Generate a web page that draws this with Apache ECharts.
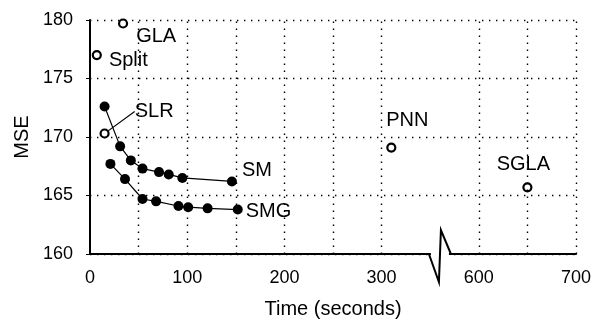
<!DOCTYPE html>
<html>
<head>
<meta charset="utf-8">
<script src="https://cdn.jsdelivr.net/npm/echarts@6/dist/echarts.min.js"></script>
<style>
  html, body { margin: 0; background: #fff; }
  #chart { width: 599px; height: 320px; }
</style>
</head>
<body>
<div id="chart"></div>
<script>
// SM / SMG curves (time in seconds, MSE)
const smTime = [15, 31, 42, 54, 71, 81, 95, 146];
const smMSE = [172.6, 169.2, 168.0, 167.3, 167.0, 166.8, 166.5, 166.2];
const smgTime = [21, 36, 54, 68, 91, 101, 121, 152];
const smgMSE = [167.7, 166.4, 164.7, 164.5, 164.1, 164.0, 163.9, 163.8];

// single methods, drawn as open circles
const openNames = ['GLA', 'Split', 'SLR', 'PNN', 'SGLA'];
const openTime = [34, 7, 15, 310, 650];
const openMSE = [179.7, 177.0, 170.3, 169.1, 165.7];

const gridTimes = [50, 100, 150, 200, 250, 300, 600, 650, 700];
const timeMax = 700;

// part of the time axis that is cut out
const breakFrom = 360;
const breakTo = 560;
const shift = breakTo - breakFrom;

const toAxis = (t) => (t >= breakTo ? t - shift : t);
const fromAxis = (v) => (v > breakFrom ? v + shift : v);

const font = 'Liberation Sans, Arial, sans-serif';
const textStyle = { fontFamily: font, fontSize: 20, color: '#000' };
const dotted = { color: '#000', width: 1.4, type: [1.4, 5.6], opacity: 1 };

// where each open-circle label sits
const openLabels = {
  GLA: { position: 'right', distance: 8 },
  Split: { position: 'right', distance: 7 },
  SLR: { position: 'right', distance: 5 },
  PNN: { position: 'top', distance: 10 },
  SGLA: { position: 'top', distance: 8 },
};
const openShift = {
  GLA: { dx: 0, dy: 13 },
  Split: { dx: 0, dy: 5 },
  SLR: { dx: 20, dy: -22 },
  PNN: { dx: 16, dy: -2 },
  SGLA: { dx: -4, dy: 0 },
};

const chart = echarts.init(document.getElementById('chart'));

chart.setOption({
  animation: false,
  grid: { left: 90, right: 23, top: 20, bottom: 66, outerBoundsMode: 'none', containLabel: false },
  xAxis: {
    type: 'value',
    min: 0,
    max: toAxis(timeMax),
    interval: 100,
    name: 'Time (seconds)',
    nameLocation: 'middle',
    nameGap: 45,
    nameTextStyle: textStyle,
    axisLine: { lineStyle: { color: '#000', width: 2 } },
    axisTick: { show: false },
    axisLabel: { ...textStyle, fontSize: 18, margin: 15, formatter: (v) => String(fromAxis(v)) },
    splitLine: { show: false },
  },
  yAxis: {
    type: 'value',
    min: 160,
    max: 180,
    interval: 5,
    name: 'MSE',
    nameLocation: 'middle',
    nameGap: 58,
    nameTextStyle: textStyle,
    axisLine: { show: true, lineStyle: { color: '#000', width: 2 } },
    axisTick: { show: true, length: 4, lineStyle: { color: '#000', width: 1 } },
    axisLabel: { ...textStyle, fontSize: 18, margin: 17 },
    splitLine: { show: true, lineStyle: dotted },
  },
  series: [
    {
      name: 'SM',
      type: 'line',
      data: smTime.map((t, i) => [toAxis(t), smMSE[i]]),
      symbol: 'circle',
      symbolSize: 10,
      itemStyle: { color: '#000' },
      lineStyle: { color: '#000', width: 1.2 },
      endLabel: { show: true, formatter: 'SM', ...textStyle, offset: [2, -11] },
      z: 3,
    },
    {
      name: 'SMG',
      type: 'line',
      data: smgTime.map((t, i) => [toAxis(t), smgMSE[i]]),
      symbol: 'circle',
      symbolSize: 10,
      itemStyle: { color: '#000' },
      lineStyle: { color: '#000', width: 1.2 },
      endLabel: { show: true, formatter: 'SMG', ...textStyle, offset: [0, 2] },
      z: 3,
    },
    {
      name: 'single',
      type: 'scatter',
      symbol: 'circle',
      symbolSize: 8,
      itemStyle: { color: '#fff', borderColor: '#000', borderWidth: 2.2, opacity: 1 },
      label: { show: true, formatter: '{b}', ...textStyle, opacity: 1 },
      labelLine: { lineStyle: { color: '#000', width: 1.2, opacity: 1 } },
      labelLayout: (p) => openShift[openNames[p.dataIndex]],
      data: openNames.map((n, i) => ({
        name: n,
        value: [toAxis(openTime[i]), openMSE[i]],
        label: openLabels[n],
        labelLine: { show: n === 'SLR' },
      })),
      markLine: {
        silent: true,
        symbol: 'none',
        label: { show: false },
        lineStyle: dotted,
        data: gridTimes.map((t) => ({ xAxis: toAxis(t) })),
      },
      z: 4,
    },
    {
      // zigzag on the time axis where it is cut
      type: 'custom',
      silent: true,
      clip: false,
      z: 10,
      data: [[breakFrom, 160]],
      renderItem: (params, api) => {
        const p = api.coord([api.value(0), api.value(1)]);
        const x = p[0];
        const y = p[1];
        return {
          type: 'group',
          children: [
            { type: 'rect', shape: { x: x - 9, y: y - 3, width: 18, height: 6 }, style: { fill: '#fff' } },
            {
              type: 'polyline',
              shape: { points: [[x - 11, y], [x - 1, y + 28], [x + 1, y - 24], [x + 11, y]] },
              style: { stroke: '#000', lineWidth: 2, fill: 'none' },
            },
          ],
        };
      },
    },
  ],
});
</script>
</body>
</html>
